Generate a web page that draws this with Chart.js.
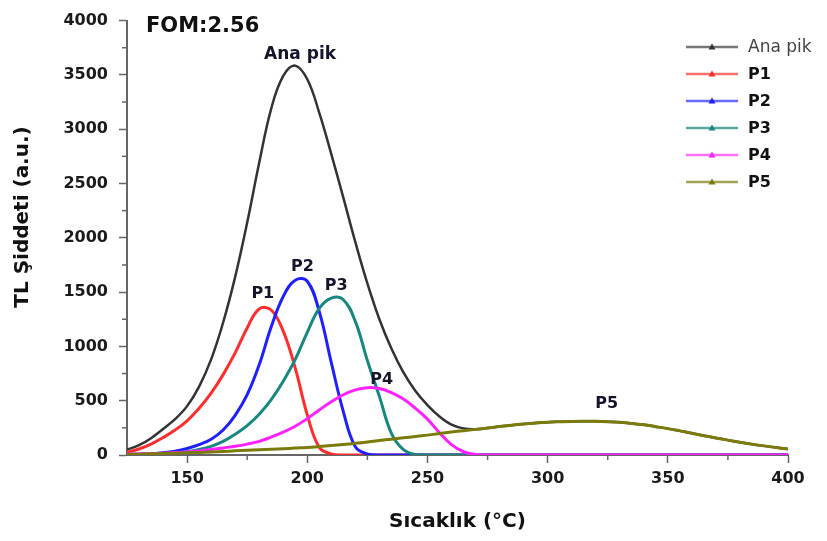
<!DOCTYPE html>
<html>
<head>
<meta charset="utf-8">
<script src="https://cdn.jsdelivr.net/npm/chart.js@4.4.1/dist/chart.umd.min.js"></script>
<style>
    html, body { margin: 0; padding: 0; background: #fff; }
    #wrap { width: 827px; height: 541px; }
</style>
</head>
<body>
<div id="wrap"><canvas id="tlChart"></canvas></div>
<script>
// sicaklik (°C), her 5 derecede bir okunan degerler
const sicaklik = [125, 130, 135, 140, 145, 150, 155, 160, 165, 170, 175, 180, 185, 190, 195, 200,
    205, 210, 215, 220, 225, 230, 235, 240, 245, 250, 255, 260, 265, 270, 275, 280, 285, 290,
    295, 300, 305, 310, 315, 320, 325, 330, 335, 340, 345, 350, 355, 360, 365, 370, 375, 380,
    385, 390, 395, 400];

const anaPik = [50, 90, 155, 240, 330, 450, 630, 880, 1220, 1640, 2140, 2690, 3190, 3490, 3585, 3460,
    3150, 2770, 2370, 1960, 1580, 1250, 980, 760, 590, 460, 355, 280, 245, 238, 248, 262, 275, 286,
    295, 302, 306, 309, 310, 310, 307, 301, 291, 278, 261, 243, 222, 200, 178, 157, 137, 118,
    100, 84, 69, 56];

const p1 = [25, 55, 100, 160, 230, 315, 430, 570, 740, 940, 1170, 1345, 1335, 1140, 800, 370,
    70, 10, 0, 0, 0, 0, 0, 0, 0, 0, 0, 0, 0, 0, 0, 0, 0, 0,
    0, 0, 0, 0, 0, 0, 0, 0, 0, 0, 0, 0, 0, 0, 0, 0, 0, 0,
    0, 0, 0, 0];

const p2 = [5, 8, 12, 20, 35, 60, 95, 145, 230, 365, 555, 830, 1180, 1460, 1610, 1600,
    1320, 850, 400, 75, 10, 0, 0, 0, 0, 0, 0, 0, 0, 0, 0, 0, 0, 0,
    0, 0, 0, 0, 0, 0, 0, 0, 0, 0, 0, 0, 0, 0, 0, 0, 0, 0,
    0, 0, 0, 0];

const p3 = [3, 5, 8, 12, 20, 30, 50, 80, 125, 190, 270, 375, 510, 680, 880, 1130,
    1350, 1445, 1430, 1230, 870, 540, 200, 50, 5, 0, 0, 0, 0, 0, 0, 0, 0, 0,
    0, 0, 0, 0, 0, 0, 0, 0, 0, 0, 0, 0, 0, 0, 0, 0, 0, 0,
    0, 0, 0, 0];

const p4 = [8, 10, 13, 17, 22, 28, 38, 50, 65, 80, 100, 125, 165, 210, 265, 335,
    415, 490, 555, 600, 620, 612, 575, 515, 430, 330, 205, 95, 30, 5, 0, 0, 0, 0,
    0, 0, 0, 0, 0, 0, 0, 0, 0, 0, 0, 0, 0, 0, 0, 0, 0, 0,
    0, 0, 0, 0];

const p5 = [5, 8, 11, 14, 17, 20, 24, 28, 33, 38, 43, 48, 53, 58, 64, 70,
    78, 87, 97, 108, 120, 133, 146, 158, 170, 183, 197, 211, 224, 236, 248, 262, 275, 286,
    295, 302, 306, 309, 310, 310, 307, 301, 291, 278, 261, 243, 222, 200, 178, 157, 137, 118,
    100, 84, 69, 56];

const xEtiketleri = [150, 200, 250, 300, 350, 400];
const xAraCentikler = [175, 225, 275, 325, 375];
const yEtiketleri = [0, 500, 1000, 1500, 2000, 2500, 3000, 3500, 4000];
const yAraCentikler = [250, 750, 1250, 1750, 2250, 2750, 3250, 3750];

const seriAdlari = ['Ana pik', 'P1', 'P2', 'P3', 'P4', 'P5'];
const seriRenkleri = ['#333333', '#ff2e2e', '#1f1fff', '#17877f', '#ff22ff', '#7b7b0c'];
const legendRenkleri = ['#777777', '#ff7070', '#6a6aff', '#5aa8a2', '#ff70ff', '#a3a357'];

const tepeEtiketleri = [
    { metin: 'Ana pik', x: 197, y: 3647, boyut: 17 },
    { metin: 'P1', x: 181.5, y: 1448, boyut: 16 },
    { metin: 'P2', x: 198, y: 1692, boyut: 16 },
    { metin: 'P3', x: 212, y: 1520, boyut: 16 },
    { metin: 'P4', x: 231, y: 652, boyut: 16 },
    { metin: 'P5', x: 324.6, y: 434, boyut: 16 }
];

const yaziTipi = '"DejaVu Sans", sans-serif';

function seri(veri) {
    return sicaklik.map((t, i) => ({ x: t, y: veri[i] }));
}

// minor tick'ler ve etiketler
const ekCizimler = {
    id: 'ekCizimler',
    afterDatasetsDraw(chart) {
        const ctx = chart.ctx;
        const xs = chart.scales.x;
        const ys = chart.scales.y;
        const area = chart.chartArea;

        ctx.save();
        ctx.strokeStyle = '#666';
        ctx.lineWidth = 1.5;
        yAraCentikler.forEach(v => {
            const py = ys.getPixelForValue(v);
            ctx.beginPath();
            ctx.moveTo(area.left - 5, py);
            ctx.lineTo(area.left, py);
            ctx.stroke();
        });
        xAraCentikler.forEach(v => {
            const px = xs.getPixelForValue(v);
            ctx.beginPath();
            ctx.moveTo(px, area.bottom);
            ctx.lineTo(px, area.bottom + 5);
            ctx.stroke();
        });

        // tepe etiketleri
        ctx.fillStyle = '#14142a';
        ctx.textAlign = 'center';
        ctx.textBaseline = 'alphabetic';
        tepeEtiketleri.forEach(e => {
            ctx.font = 'bold ' + e.boyut + 'px ' + yaziTipi;
            ctx.fillText(e.metin, xs.getPixelForValue(e.x), ys.getPixelForValue(e.y));
        });

        ctx.textAlign = 'left';
        ctx.font = 'bold 21px ' + yaziTipi;
        ctx.fillStyle = '#111';
        ctx.fillText('FOM:2.56', xs.getPixelForValue(132.9), ys.getPixelForValue(3891));

        // y ekseni basligi
        ctx.save();
        ctx.translate(23, 217);
        ctx.rotate(-Math.PI / 2);
        ctx.textAlign = 'center';
        ctx.textBaseline = 'middle';
        ctx.font = 'bold 20px ' + yaziTipi;
        ctx.fillStyle = '#111';
        ctx.fillText('TL Şiddeti (a.u.)', 0, 0);
        ctx.restore();

        // legend
        seriAdlari.forEach((ad, i) => {
            const y = 47 + i * 27;
            ctx.strokeStyle = legendRenkleri[i];
            ctx.lineWidth = 2.5;
            ctx.beginPath();
            ctx.moveTo(686, y);
            ctx.lineTo(738, y);
            ctx.stroke();
            ctx.fillStyle = seriRenkleri[i];
            ctx.beginPath();
            ctx.moveTo(712, y - 3.5);
            ctx.lineTo(715.5, y + 2.5);
            ctx.lineTo(708.5, y + 2.5);
            ctx.closePath();
            ctx.fill();
            ctx.textBaseline = 'middle';
            ctx.textAlign = 'left';
            if (i === 0) {
                ctx.font = '17px ' + yaziTipi;
                ctx.fillStyle = '#444';
            } else {
                ctx.font = 'bold 16px ' + yaziTipi;
                ctx.fillStyle = '#111';
            }
            ctx.fillText(ad, 748, y + 1);
        });
        ctx.restore();
    }
};

const veriler = [anaPik, p1, p2, p3, p4, p5];

new Chart(document.getElementById('tlChart'), {
    type: 'line',
    data: {
        datasets: veriler.map((v, i) => ({
            label: seriAdlari[i],
            data: seri(v),
            borderColor: seriRenkleri[i],
            backgroundColor: seriRenkleri[i],
            borderWidth: i === 0 ? 2.5 : 3,
            pointRadius: 0,
            tension: 0.4,
            fill: false,
            order: 6 - i
        }))
    },
    options: {
        responsive: true,
        maintainAspectRatio: false,
        animation: false,
        layout: { padding: { top: 15, right: 39, left: 0, bottom: 0 } },
        plugins: {
            legend: { display: false },
            tooltip: { enabled: false }
        },
        scales: {
            x: {
                type: 'linear',
                min: 125,
                max: 400,
                afterBuildTicks: s => { s.ticks = xEtiketleri.map(v => ({ value: v })); },
                afterFit: s => { s.height = 86; },
                ticks: {
                    color: '#1a1a1a',
                    font: { family: yaziTipi, size: 16, weight: 'bold' },
                    padding: 6,
                    maxRotation: 0,
                    autoSkip: false,
                    callback: v => String(v)
                },
                grid: { display: true, drawOnChartArea: false, drawTicks: true, tickLength: 8, tickWidth: 1.5, color: '#666' },
                border: { display: true, color: '#666', width: 2 },
                title: {
                    display: true,
                    text: 'Sıcaklık (°C)',
                    color: '#111',
                    font: { family: yaziTipi, size: 20, weight: 'bold' },
                    padding: { top: 0, bottom: 7 }
                }
            },
            y: {
                min: 0,
                max: 4000,
                afterBuildTicks: s => { s.ticks = yEtiketleri.map(v => ({ value: v })); },
                afterFit: s => { s.width = 127; },
                ticks: {
                    color: '#1a1a1a',
                    font: { family: yaziTipi, size: 16, weight: 'bold' },
                    padding: 11,
                    callback: v => String(v)
                },
                grid: { display: true, drawOnChartArea: false, drawTicks: true, tickLength: 8, tickWidth: 1.5, color: '#666' },
                border: { display: true, color: '#666', width: 2 }
            }
        }
    },
    plugins: [ekCizimler]
});
</script>
</body>
</html>
